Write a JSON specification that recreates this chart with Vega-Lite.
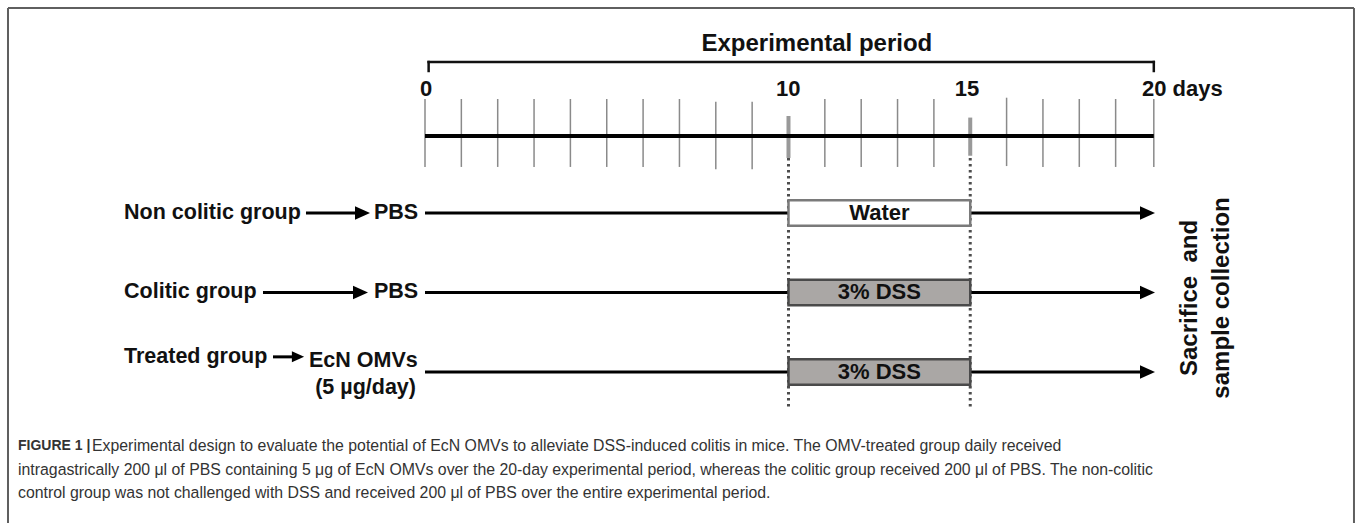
{
  "$schema": "https://vega.github.io/schema/vega-lite/v6.json",
  "width": 1357,
  "height": 525,
  "autosize": {"type": "fit", "contains": "padding"},
  "padding": 0,
  "background": "white",
  "config": {"view": {"stroke": null}, "text": {"font": "Liberation Sans"}},
  "encoding": {
    "x": {"field": "day", "type": "quantitative", "axis": null, "scale": {"domain": [-11.692, 25.64], "nice": false, "zero": false}},
    "y": {"field": "lane", "type": "quantitative", "axis": null, "scale": {"domain": [-1.679, 4.925], "nice": false, "zero": false, "reverse": true}}
  },
  "layer": [
    {
      "data": {"values": [
        {"part": "top", "day": -11.472, "day2": 25.557, "lane": -1.579, "lane2": -1.579},
        {"part": "left", "day": -11.472, "day2": -11.472, "lane": -1.579, "lane2": 4.899},
        {"part": "right", "day": 25.557, "day2": 25.557, "lane": -1.579, "lane2": 4.899}
      ]},
      "mark": {"type": "rule", "color": "#5f5f5f", "strokeWidth": 2},
      "encoding": {"x2": {"field": "day2"}, "y2": {"field": "lane2"}}
    },
    {
      "data": {"values": [
        {"day": 0.1, "day2": 20.05, "lane": -0.899, "lane2": -0.899},
        {"day": 0.1, "day2": 0.1, "lane": -0.899, "lane2": -0.786},
        {"day": 20.05, "day2": 20.05, "lane": -0.899, "lane2": -0.786}
      ]},
      "mark": {"type": "rule", "color": "#111", "strokeWidth": 2.5, "strokeCap": "square"},
      "encoding": {"x2": {"field": "day2"}, "y2": {"field": "lane2"}}
    },
    {
      "data": {"values": [
        {"day": 0, "lane": -0.434, "lane2": 0.421},
        {"day": 1, "lane": -0.434, "lane2": 0.421},
        {"day": 2, "lane": -0.434, "lane2": 0.421},
        {"day": 3, "lane": -0.434, "lane2": 0.421},
        {"day": 4, "lane": -0.434, "lane2": 0.421},
        {"day": 5, "lane": -0.434, "lane2": 0.421},
        {"day": 6, "lane": -0.434, "lane2": 0.421},
        {"day": 7, "lane": -0.434, "lane2": 0.421},
        {"day": 8, "lane": -0.4, "lane2": 0.45},
        {"day": 9, "lane": -0.4, "lane2": 0.45},
        {"day": 11, "lane": -0.434, "lane2": 0.421},
        {"day": 12, "lane": -0.434, "lane2": 0.421},
        {"day": 13, "lane": -0.434, "lane2": 0.421},
        {"day": 14, "lane": -0.434, "lane2": 0.421},
        {"day": 16, "lane": -0.45, "lane2": 0.41},
        {"day": 17, "lane": -0.434, "lane2": 0.421},
        {"day": 18, "lane": -0.434, "lane2": 0.421},
        {"day": 19, "lane": -0.434, "lane2": 0.421},
        {"day": 20.05, "lane": -0.434, "lane2": 0.421}
      ]},
      "mark": {"type": "rule", "color": "#8a8a8a", "strokeWidth": 1.5},
      "encoding": {"y2": {"field": "lane2"}}
    },
    {
      "data": {"values": [{"day": 10, "lane": 0.308, "lane2": 3.44}, {"day": 15, "lane": 0.308, "lane2": 3.44}]},
      "mark": {"type": "rule", "color": "#4d4d4d", "strokeWidth": 3, "strokeDash": [2.5, 3.5]},
      "encoding": {"y2": {"field": "lane2"}}
    },
    {
      "data": {"values": [{"day": 10, "lane": -0.22, "lane2": 0.308}, {"day": 15, "lane": -0.2, "lane2": 0.28}]},
      "mark": {"type": "rule", "color": "#999999", "strokeWidth": 4},
      "encoding": {"y2": {"field": "lane2"}}
    },
    {
      "data": {"values": [{"day": 0, "day2": 20.05, "lane": 0.031}]},
      "mark": {"type": "rule", "color": "#000", "strokeWidth": 4},
      "encoding": {"x2": {"field": "day2"}}
    },
    {
      "data": {"values": [
        {"group": "Non colitic", "day": 0, "day2": 19.9, "lane": 1.0},
        {"group": "Colitic", "day": 0, "day2": 19.9, "lane": 2.0},
        {"group": "Treated", "day": 0, "day2": 19.9, "lane": 3.0},
        {"group": "Non colitic", "day": -3.274, "day2": -1.75, "lane": 1.0},
        {"group": "Colitic", "day": -4.457, "day2": -1.8, "lane": 2.0},
        {"group": "Treated", "day": -4.182, "day2": -3.5, "lane": 2.81}
      ]},
      "mark": {"type": "rule", "color": "#000", "strokeWidth": 3},
      "encoding": {"x2": {"field": "day2"}}
    },
    {
      "data": {"values": [
        {"group": "Non colitic", "day": -1.719, "lane": 1.0, "head": "large"},
        {"group": "Colitic", "day": -1.774, "lane": 2.0, "head": "large"},
        {"group": "Treated", "day": -3.494, "lane": 2.81, "head": "small"},
        {"group": "Non colitic", "day": 19.876, "lane": 1.0, "head": "large"},
        {"group": "Colitic", "day": 19.876, "lane": 2.0, "head": "large"},
        {"group": "Treated", "day": 19.876, "lane": 3.0, "head": "large"}
      ]},
      "mark": {"type": "point", "shape": "M-1,-0.9L1,0L-1,0.9Z", "filled": true, "color": "#000", "opacity": 1},
      "encoding": {"size": {"field": "head", "type": "nominal", "scale": {"domain": ["large", "small"], "range": [225, 150]}, "legend": null}}
    },
    {
      "data": {"values": [
        {"treatment": "Water", "day": 10, "day2": 15, "lane": 0.84, "lane2": 1.16},
        {"treatment": "3% DSS", "day": 10, "day2": 15, "lane": 1.84, "lane2": 2.16},
        {"treatment": "3% DSS", "day": 10, "day2": 15, "lane": 2.84, "lane2": 3.16}
      ]},
      "mark": {"type": "rect", "strokeWidth": 2.5},
      "encoding": {
        "x2": {"field": "day2"},
        "y2": {"field": "lane2"},
        "fill": {"field": "treatment", "type": "nominal", "scale": {"domain": ["Water", "3% DSS"], "range": ["#ffffff", "#aaa7a5"]}, "legend": null},
        "stroke": {"field": "treatment", "type": "nominal", "scale": {"domain": ["Water", "3% DSS"], "range": ["#7a7a7a", "#4a4a4a"]}, "legend": null}
      }
    },
    {
      "data": {"values": [
        {"label": "Water", "day": 12.5, "lane": 1.0},
        {"label": "3% DSS", "day": 12.5, "lane": 2.0},
        {"label": "3% DSS", "day": 12.5, "lane": 3.0}
      ]},
      "mark": {"type": "text", "fontSize": 22, "fontWeight": "bold", "color": "#111", "align": "center", "baseline": "middle"},
      "encoding": {"text": {"field": "label"}}
    },
    {
      "data": {"values": [
        {"label": "Non colitic group", "day": -8.28, "lane": 1.0},
        {"label": "Colitic group", "day": -8.28, "lane": 2.0},
        {"label": "Treated group", "day": -8.28, "lane": 2.81},
        {"label": "PBS", "day": -1.403, "lane": 1.0},
        {"label": "PBS", "day": -1.403, "lane": 2.0},
        {"label": "EcN OMVs", "day": -3.191, "lane": 2.86}
      ]},
      "mark": {"type": "text", "fontSize": 21.5, "fontWeight": "bold", "color": "#111", "align": "left", "baseline": "middle"},
      "encoding": {"text": {"field": "label"}}
    },
    {
      "data": {"values": [{"label": "(5 µg/day)", "day": -0.248, "lane": 3.2}]},
      "mark": {"type": "text", "fontSize": 21.5, "fontWeight": "bold", "color": "#111", "align": "right", "baseline": "middle"},
      "encoding": {"text": {"field": "label"}}
    },
    {
      "data": {"values": [
        {"label": "0", "day": 0.03, "lane": -0.56},
        {"label": "10", "day": 9.99, "lane": -0.56},
        {"label": "15", "day": 14.91, "lane": -0.56}
      ]},
      "mark": {"type": "text", "fontSize": 22, "fontWeight": "bold", "color": "#111", "align": "center", "baseline": "middle"},
      "encoding": {"text": {"field": "label"}}
    },
    {
      "data": {"values": [{"label": "20 days", "day": 19.725, "lane": -0.56}]},
      "mark": {"type": "text", "fontSize": 22, "fontWeight": "bold", "color": "#111", "align": "left", "baseline": "middle"},
      "encoding": {"text": {"field": "label"}}
    },
    {
      "data": {"values": [{"label": "Experimental period", "day": 10.78, "lane": -1.126}]},
      "mark": {"type": "text", "fontSize": 24, "fontWeight": "bold", "color": "#111", "align": "center", "baseline": "middle"},
      "encoding": {"text": {"field": "label"}}
    },
    {
      "data": {"values": [
        {"label": "Sacrifice\u00a0\u00a0and", "day": 21.05, "lane": 2.069},
        {"label": "sample collection", "day": 21.93, "lane": 2.069}
      ]},
      "mark": {"type": "text", "fontSize": 24, "fontWeight": "bold", "color": "#111", "align": "center", "baseline": "middle", "angle": 270},
      "encoding": {"text": {"field": "label"}}
    },
    {
      "data": {"values": [{"label": "FIGURE 1 |", "day": -11.197, "lane": 3.931}]},
      "mark": {"type": "text", "fontSize": 14, "fontWeight": "bold", "color": "#333", "align": "left", "baseline": "middle"},
      "encoding": {"text": {"field": "label"}}
    },
    {
      "data": {"values": [
        {"label": "Experimental design to evaluate the potential of EcN OMVs to alleviate DSS-induced colitis in mice. The OMV-treated group daily received", "day": -9.161, "lane": 3.931},
        {"label": "intragastrically 200 μl of PBS containing 5 μg of EcN OMVs over the 20-day experimental period, whereas the colitic group received 200 μl of PBS. The non-colitic", "day": -11.197, "lane": 4.233},
        {"label": "control group was not challenged with DSS and received 200 μl of PBS over the entire experimental period.", "day": -11.197, "lane": 4.522}
      ]},
      "mark": {"type": "text", "fontSize": 15.85, "color": "#333", "align": "left", "baseline": "middle"},
      "encoding": {"text": {"field": "label"}}
    }
  ]
}
